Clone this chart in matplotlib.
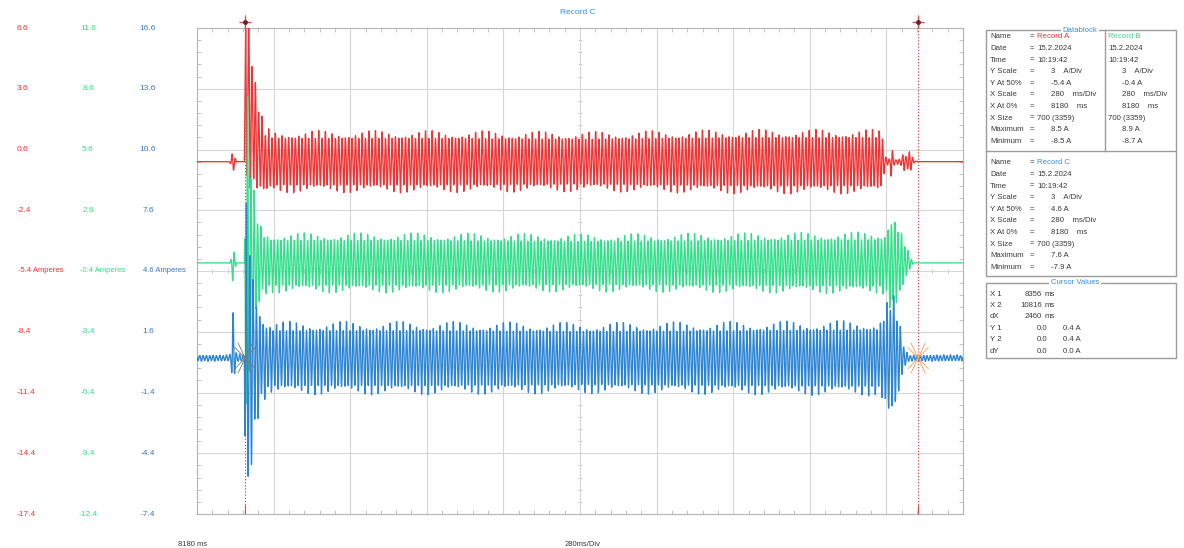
import numpy as np
import matplotlib
matplotlib.use("Agg")
import matplotlib.pyplot as plt
from matplotlib.patches import Rectangle
from matplotlib.transforms import blended_transform_factory

plt.rcParams['font.family'] = ['Liberation Sans', 'DejaVu Sans']

W, H = 1184, 548

# ---- record settings -------------------------------------------------------
T0 = 8180.0          # ms at left edge (X At 0%)
XDIV = 280.0         # ms per division
NXDIV = 10
NYDIV = 8
YSCALE = 3.0         # A per division
CENTRE_A, CENTRE_B, CENTRE_C = -5.4, -0.4, 4.6   # Y At 50%
RIPPLE_HZ = 82.0     # ripple inside the current band
BURST_MS = 23.0      # spacing of the taller current peaks

CURSOR_X1 = 8356.0
CURSOR_X2 = 10816.0

# envelope nodes (time ms, peak amplitude A) for each record
RED_T = [8180, 8298, 8305, 8311, 8317, 8325, 8353, 8358, 8368, 8385, 8405, 8425, 8460,
         9000, 9600, 10200, 10685, 10695, 10712, 10719, 10726, 10735, 10750, 10762,
         10772, 10782, 10793, 10802, 10812, 10980]
RED_A = [0, 0, 0.15, 0.7, 0.3, 0, 0, 5.0, 4.4, 3.0, 2.2, 1.6, 1.4,
         1.4, 1.35, 1.45, 1.45, 0.25, 0.15, 0.9, 0.25, 0.1, 0.15, 0.45,
         0.3, 0.55, 0.35, 0.05, 0, 0]
RED_OFF_T = [8180, 8353, 8358, 8372, 8395, 8425, 10980]
RED_OFF = [0, 0, 3.5, 2.6, 1.0, 0, 0]

GRN_T = [8180, 8298, 8305, 8311, 8317, 8325, 8353, 8358, 8368, 8382, 8398, 8418, 8445,
         9000, 9600, 10200, 10690, 10705, 10718, 10732, 10745, 10758, 10772, 10786,
         10800, 10980]
GRN_A = [0, 0, 0.2, 1.2, 0.4, 0, 0, 8.5, 7.0, 4.0, 2.5, 1.6, 1.35,
         1.35, 1.3, 1.35, 1.4, 1.8, 2.3, 2.1, 1.8, 1.3, 0.8, 0.35,
         0, 0]

BLU_T = [8180, 8298, 8305, 8311, 8317, 8325, 8353, 8358, 8368, 8382, 8398, 8418, 8445,
         9000, 9600, 10200, 10675, 10695, 10712, 10728, 10745, 10758, 10770, 10785,
         10980]
BLU_A = [0.15, 0.15, 0.4, 2.2, 1.0, 0.18, 0.18, 8.0, 7.0, 4.6, 3.0, 2.0, 1.65,
         1.65, 1.6, 1.65, 1.7, 2.4, 2.9, 2.8, 1.9, 0.9, 0.35, 0.15,
         0.15]
BLU_OFF = 0.3

RED = '#ee3434'
GRN = '#33df8a'
BLU = '#2b84d4'
GRID = '#d6d6d6'
TXT = '#3a3a3a'

# ---- figure / axes ---------------------------------------------------------
fig = plt.figure(figsize=(W / 100, H / 100), dpi=100)
L, R, TOP, BOT = 197, 963, 28, 514
ax = fig.add_axes([L / W, 1 - BOT / H, (R - L) / W, (BOT - TOP) / H])
ax.set_xlim(T0, T0 + NXDIV * XDIV)
ax.set_ylim(0, NYDIV)

ax.set_xticks([T0 + i * XDIV for i in range(NXDIV + 1)])
ax.set_yticks(range(NYDIV + 1))
ax.set_xticks([T0 + i * XDIV / 5 for i in range(NXDIV * 5 + 1)], minor=True)
ax.set_yticks([i / 5 for i in range(NYDIV * 5 + 1)], minor=True)
ax.grid(True, which='major', color=GRID, lw=0.8)
ax.tick_params(which='both', direction='in', top=True, right=True,
               labelleft=False, labelbottom=False, color='#b8b8b8')
ax.tick_params(which='major', length=0)
ax.tick_params(which='minor', length=3, width=0.6)
for s in ax.spines.values():
    s.set_color('#b5b5b5')
    s.set_linewidth(0.8)

# small ticks along the centre lines
xm = np.array([T0 + i * XDIV / 5 for i in range(NXDIV * 5 + 1)])
ym = np.array([i / 5 for i in range(NYDIV * 5 + 1)])
ax.plot(xm, np.full_like(xm, NYDIV / 2), ls='none', marker='|', ms=3,
        mew=0.6, color='#bdbdbd', zorder=1)
ax.plot(np.full_like(ym, T0 + NXDIV / 2 * XDIV), ym, ls='none', marker='_', ms=3,
        mew=0.6, color='#bdbdbd', zorder=1)

# ---- traces ----------------------------------------------------------------
t = np.arange(T0, T0 + NXDIV * XDIV, 0.2)


def carrier(phase, shift):
    fast = np.sin(2 * np.pi * RIPPLE_HZ / 1000.0 * t + phase)
    peaks = (0.5 + 0.5 * np.cos(2 * np.pi * (t + shift) / BURST_MS)) ** 4
    return fast * (0.82 + 0.28 * peaks)


def to_div(v, centre):
    return NYDIV / 2 + (v - centre) / YSCALE


red = np.interp(t, RED_T, RED_A) * carrier(0.0, 0.0) + np.interp(t, RED_OFF_T, RED_OFF)
grn = np.interp(t, GRN_T, GRN_A) * carrier(2.1, 7.0)
blu = np.interp(t, BLU_T, BLU_A) * carrier(4.2, 14.0) + BLU_OFF

ax.plot(t, to_div(red, CENTRE_A), color=RED, lw=0.95, zorder=3)
ax.plot(t, to_div(grn, CENTRE_B), color=GRN, lw=0.95, zorder=4)
ax.plot(t, to_div(blu, CENTRE_C), color=BLU, lw=0.95, zorder=5)

# ---- cursors ---------------------------------------------------------------
for xc in (CURSOR_X1, CURSOR_X2):
    ax.plot([xc, xc], [0, NYDIV + 0.25], color='#e04848', lw=0.8,
            ls=(0, (1.2, 1.6)), clip_on=False, zorder=6)
    ax.plot([xc], [NYDIV + 0.1], marker='+', ms=8, mew=1.0, color='#e04848',
            clip_on=False, zorder=7)
    ax.plot([xc], [NYDIV + 0.1], marker='o', ms=2.5, color='#5a2a2a',
            clip_on=False, zorder=8)
    ax.plot([xc], [0.08], marker='|', ms=6, mew=0.8, color='#e04848', zorder=6)

# crossing marks where cursor meets Record C
ycross = to_div(BLU_OFF, CENTRE_C)
for xc, col in ((CURSOR_X2, '#f0a050'), (CURSOR_X1, '#7a7a7a')):
    for ang in (35, -35, 55, -55):
        dx = 45.0 * np.cos(np.radians(ang))
        dy = 0.3 * np.sin(np.radians(ang))
        ax.plot([xc - dx, xc + dx], [ycross - dy, ycross + dy], color=col,
                lw=0.6, zorder=6)

# ---- left scale labels -----------------------------------------------------
tr = blended_transform_factory(fig.transFigure, ax.transData)
cols = [(CENTRE_A, RED, 17 / W, 'left'), (CENTRE_B, GRN, 88 / W, 'center'),
        (CENTRE_C, '#3a78c8', 148 / W, 'center')]
mid_x = [18 / W, 80 / W, 143 / W]
for (centre, col, xf, ha), mx in zip(cols, mid_x):
    for k in range(NYDIV + 1):
        v = centre + (k - NYDIV / 2) * YSCALE
        if k == NYDIV / 2:
            ax.text(mx, k, f"{v:.1f} Amperes", transform=tr, ha='left',
                    va='center', fontsize=5.5, color=col)
        else:
            ax.text(xf, k, f"{v:.1f}", transform=tr, ha=ha, va='center',
                    fontsize=6, color=col)

# ---- overlay in pixel coordinates for panels and captions ------------------
ov = fig.add_axes([0, 0, 1, 1], zorder=10)
ov.set_xlim(0, W)
ov.set_ylim(H, 0)
ov.axis('off')
ov.patch.set_alpha(0)

ov.text(578, 12, "Record C", color='#3a8ee0', fontsize=6, ha='center', va='center')
ov.text(178, 544, f"{T0:.0f} ms", color=TXT, fontsize=5.5, ha='left', va='center')
ov.text(565, 544, f"{XDIV:.0f}ms/Div", color=TXT, fontsize=5.5, ha='left', va='center')

BORDER = '#9c9c9c'
FS = 5.6

# Datablock
ov.add_patch(Rectangle((986, 30), 190, 246, fill=False, ec=BORDER, lw=1.0))
ov.plot([986, 1176], [151, 151], color=BORDER, lw=1.0)
ov.plot([1105, 1105], [30, 151], color=BORDER, lw=1.0)
ov.text(1080, 30, "Datablock", color='#3a8ee0', fontsize=FS, ha='center',
        va='center', bbox=dict(fc='white', ec='none', pad=1))

labels = ["Name", "Date", "Time", "Y Scale", "Y At 50%", "X Scale", "X At 0%",
          "X Size", "Maximum", "Minimum"]
recs = [("Record A", RED, CENTRE_A, 8.5, -8.5),
        ("Record B", GRN, CENTRE_B, 8.9, -8.7),
        ("Record C", '#3a8ee0', CENTRE_C, 7.6, -7.9)]


def value_rows(x0, y0, rec, with_labels):
    name, col, centre, vmax, vmin = rec
    rows = [(name, col), ("15.2.2024", TXT), ("10:19:42", TXT),
            (f"{YSCALE:.0f}    A/Div", TXT), (f"{centre:.1f} A", TXT),
            (f"{XDIV:.0f}    ms/Div", TXT), (f"{T0:.0f}    ms", TXT),
            ("700 (3359)", TXT), (f"{vmax:.1f} A", TXT), (f"{vmin:.1f} A", TXT)]
    for i, (txt, c) in enumerate(rows):
        y = y0 + i * 11.6
        if with_labels:
            ov.text(990, y, labels[i], fontsize=FS, color=TXT, va='center')
            ov.text(1030, y, "=", fontsize=FS, color=TXT, va='center')
        ov.text(x0 + (0 if i in (0, 1, 2, 7) else 14), y, txt, fontsize=FS,
                color=c, va='center')


value_rows(1037, 37, recs[0], True)
value_rows(1108, 37, recs[1], False)
value_rows(1037, 163, recs[2], True)

# Cursor values
ov.add_patch(Rectangle((986, 283), 190, 75, fill=False, ec=BORDER, lw=1.0))
ov.text(1075, 283, "Cursor Values", color='#3a8ee0', fontsize=FS, ha='center',
        va='center', bbox=dict(fc='white', ec='none', pad=1))
crows = [("X 1", f"{CURSOR_X1:.0f}", "ms"), ("X 2", f"{CURSOR_X2:.0f}", "ms"),
         ("dX", f"{CURSOR_X2 - CURSOR_X1:.0f}", "ms")]
for i, (lab, val, unit) in enumerate(crows):
    y = 294 + i * 11.4
    ov.text(990, y, lab, fontsize=FS, color=TXT, va='center')
    ov.text(1042, y, val, fontsize=FS, color=TXT, va='center', ha='right')
    ov.text(1045, y, unit, fontsize=FS, color=TXT, va='center')
yrows = [("Y 1", "0.0", "0.4 A"), ("Y 2", "0.0", "0.4 A"), ("dY", "0.0", "0.0 A")]
for i, (lab, v1, v2) in enumerate(yrows):
    y = 328.5 + i * 11.4
    ov.text(990, y, lab, fontsize=FS, color=TXT, va='center')
    ov.text(1047, y, v1, fontsize=FS, color=TXT, va='center', ha='right')
    ov.text(1063, y, v2, fontsize=FS, color=TXT, va='center')

fig.savefig("out.png", dpi=100, facecolor='white')
